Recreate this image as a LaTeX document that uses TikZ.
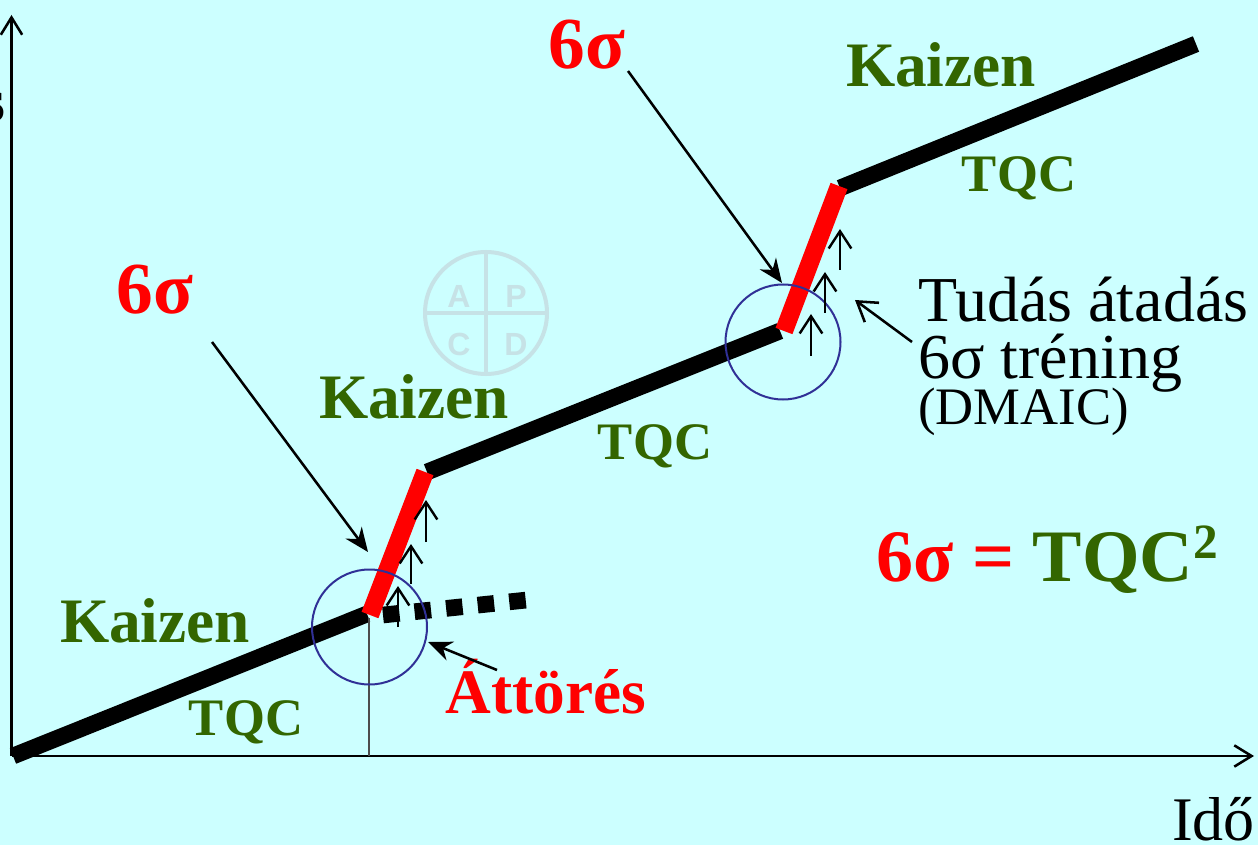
\documentclass[tikz,border=0pt]{standalone}
\usepackage{fontspec}
\usepackage{xcolor}
\usepackage{tikz}
\usetikzlibrary{arrows.meta}
\setmainfont{Liberation Serif}
\newfontfamily\pdcafont{Liberation Sans}
\definecolor{pagebg}{RGB}{204,255,255}
\definecolor{leafgreen}{RGB}{51,102,0}
\definecolor{ringblue}{RGB}{48,48,150}
\definecolor{pdcagray}{RGB}{198,226,230}
\newcommand{\fsz}[1]{\fontsize{#1}{#1}\selectfont}

\begin{document}
\begin{tikzpicture}[
  x=0.75pt,
  y=-0.75pt,
  axisline/.style={line width=2pt, -{Straight Barb[length=13pt,width=16pt,line width=1.9pt]}},
  stepline/.style={line width=12.5pt},
  jumpline/.style={line width=13.5pt, red},
  ring/.style={draw=ringblue, line width=1.5pt},
  lift/.style={line width=1.8pt, -{Straight Barb[length=13pt,width=17pt,line width=1.8pt]}},
  pointer/.style={line width=1.9pt, -{Stealth[length=18pt,width=15pt]}},
  openpointer/.style={line width=1.9pt, -{Straight Barb[length=14pt,width=18pt,line width=1.9pt]}},
  kaizen/.style={text=leafgreen, font=\bfseries\fsz{47.5}},
  tqc/.style={text=leafgreen, font=\bfseries\fsz{39.5}},
  sigma/.style={text=red, font=\bfseries\fsz{55}},
  pdcaletter/.style={text=pdcagray, font=\pdcafont\bfseries\fsz{24}}
]
\fill[pagebg] (0,0) rectangle (1258,845);
\useasboundingbox (0,0) rectangle (1258,845);

\coordinate (origin) at (11.5,756);
\coordinate (ytop) at (11.5,15);
\coordinate (xend) at (1254,756);
\draw[axisline] (origin) -- (ytop);
\draw[axisline] (origin) -- (xend);
\node[inner sep=0, anchor=base east, font=\bfseries\fsz{46}] (ylabel) at (6,122) {s};
\node[inner sep=0, anchor=base east, font=\fsz{46.5}] (xlabel) at (1255,840) {Idő};

\draw[pdcagray, line width=3pt] (486,313) circle (61);
\node[pdcaletter] (lettera) at (459,296) {A};
\node[pdcaletter] (letterp) at (516,296) {P};
\node[pdcaletter] (letterc) at (459,344) {C};
\node[pdcaletter] (letterd) at (516,344) {D};
\coordinate (pdcan) at (486,252);
\coordinate (pdcas) at (486,374);
\coordinate (pdcaw) at (425,313);
\coordinate (pdcae) at (547,313);
\draw[pdcagray, line width=3pt] (pdcan) -- (pdcas) (pdcaw) -- (pdcae);

\coordinate (a1) at (13,756);
\coordinate (a2) at (367,614);
\coordinate (b1) at (370,615);
\coordinate (b2) at (425,472);
\coordinate (c1) at (427,472);
\coordinate (c2) at (780,331);
\coordinate (d1) at (784,331);
\coordinate (d2) at (839,186);
\coordinate (e1) at (840,188);
\coordinate (e2) at (1196,44);
\coordinate (f1) at (383,615);
\coordinate (f2) at (527,600);
\coordinate (g1) at (369,618);
\coordinate (g2) at (369,756);

\draw[stepline] (a1) -- (a2);
\draw[stepline] (c1) -- (c2);
\draw[stepline] (e1) -- (e2);
\draw[line width=12.5pt, dash pattern=on 12.4pt off 11.4pt] (f1) -- (f2);
\draw[black!70, line width=0.8pt] (g1) -- (g2);
\draw[jumpline] (b1) -- (b2);
\draw[jumpline] (d1) -- (d2);
\draw[ring] (369.5,627) circle (57.5);
\draw[ring] (783,342) circle (57.5);

\foreach \nm/\px/\ya/\yb in {
  la/398/627/586, lb/411/584/544, lc/426/542/500,
  ld/811/356/314, le/825/313/272, lf/840/270/229} {
  \coordinate (\nm s) at (\px,\ya);
  \coordinate (\nm e) at (\px,\yb);
  \draw[lift] (\nm s) -- (\nm e);
}

\node[kaizen] (kaizena) at (155,621) {Kaizen};
\node[kaizen] (kaizenb) at (414,397) {Kaizen};
\node[kaizen] (kaizenc) at (941,65) {Kaizen};
\node[tqc] (tqca) at (246,722) {TQC};
\node[tqc] (tqcb) at (655,446) {TQC};
\node[tqc] (tqcc) at (1019,178) {TQC};
\node[sigma] (sigmaa) at (155,290) {6σ};
\node[sigma] (sigmab) at (587,45) {6σ};
\node[inner sep=0, anchor=base, text=red, font=\bfseries\fsz{47.5}] (attores) at (546,713) {Áttörés};
\node[inner sep=0, anchor=base west, align=left, font=\fsz{48}] (tudas) at (918,424)
  {Tudás átadás\\[-5pt]6σ tréning\\[-14pt]{\fsz{39.5}(DMAIC)}};
\node[inner sep=0, anchor=base west, font=\bfseries\fsz{55.5}] (formula) at (876,581)
  {\textcolor{red}{6σ = }\textcolor{leafgreen}{TQC\raisebox{17pt}{\fsz{37}2}}};

\coordinate (pa) at (212,342);
\coordinate (pb) at (368,552);
\coordinate (pc) at (628,71);
\coordinate (pd) at (782,283);
\coordinate (pe) at (497,670);
\coordinate (pf) at (428,642);
\coordinate (pg) at (912,342);
\coordinate (ph) at (855,300);
\draw[pointer] (pa) -- (pb);
\draw[pointer] (pc) -- (pd);
\draw[pointer] (pe) -- (pf);
\draw[openpointer] (pg) -- (ph);
\end{tikzpicture}
\end{document}
